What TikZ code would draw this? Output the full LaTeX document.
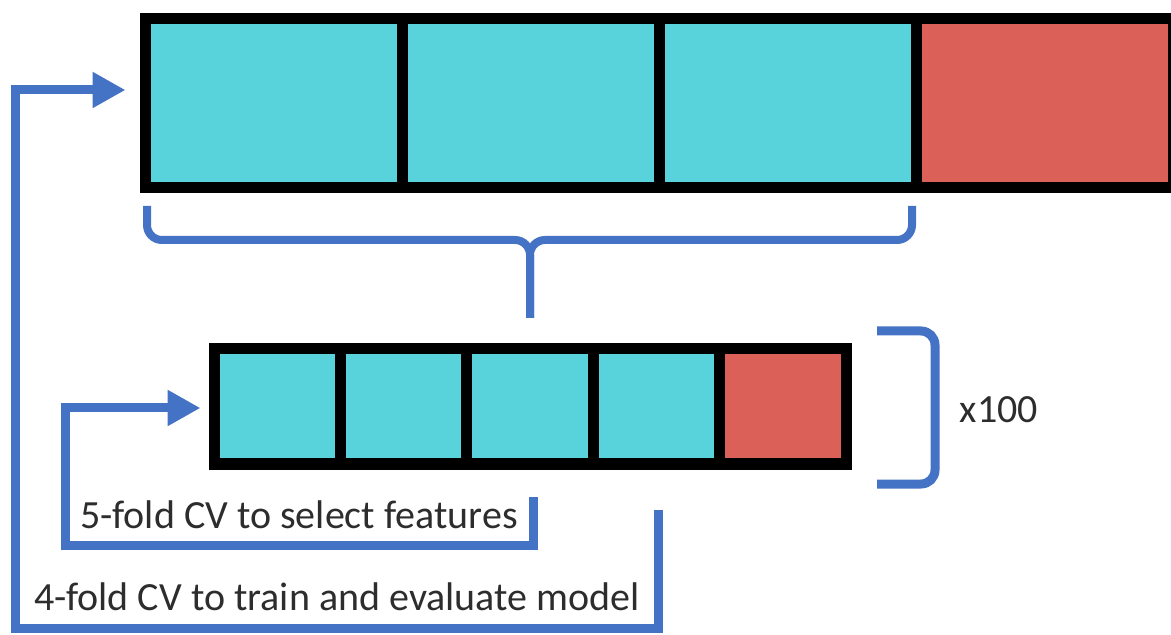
\documentclass[tikz,border=0pt]{standalone}
\usepackage{fontspec}
\setmainfont{Carlito}
\usetikzlibrary{arrows.meta}
\definecolor{foldcyan}{RGB}{88,211,219}
\definecolor{foldred}{RGB}{218,96,88}
\definecolor{cvblue}{RGB}{68,114,196}
\definecolor{labelgray}{RGB}{45,45,45}

\begin{document}
\begin{tikzpicture}[
  x=0.5pt, y=-0.5pt,
  bigcell/.style = {rectangle, draw=black, line width=5.5pt, inner sep=0pt,
                    minimum width=128.5pt, minimum height=84.5pt, fill=foldcyan},
  smallcell/.style = {bigcell, minimum width=63.2pt, minimum height=57.5pt},
  testcell/.style = {fill=foldred},
  blueline/.style = {draw=cvblue, line width=4.5pt},
  brace/.style = {blueline, line width=4pt, rounded corners=7.5pt},
  cvarr/.style = {blueline, -{Triangle[length=16.5pt, width=17pt]}},
  lbl/.style = {font=\fontsize{20}{22}\selectfont, text=labelgray, inner sep=0pt}
]
  \useasboundingbox (0,0) rectangle (1171,635);

  % outer split: 3 train folds + 1 test fold
  \foreach \i in {1,2,3}
    \node[bigcell] (t\i) at ({145+257*(\i-0.5)},103) {};
  \node[bigcell, testcell] (t4) at ({145+257*3.5},103) {};

  % inner split: 4 train folds + 1 test fold
  \foreach \i in {1,...,4}
    \node[smallcell] (s\i) at ({214+126.4*(\i-0.5)},406.5) {};
  \node[smallcell, testcell] (s5) at ({214+126.4*4.5},406.5) {};

  % brace under the train folds
  \draw[brace] (147,206) -- (147,240) -- (530,240) -- (530,318);
  \draw[brace] (912,206) -- (912,240) -- (530,240) -- (530,318);

  % repeat bracket
  \draw[blueline, rounded corners=7pt] (877,331) -- (935,331) -- (935,484) -- (877,484);
  \node[lbl] (rep) at (999,410) {x100};

  % labels
  \node[lbl] (inner) at (299,515) {5-fold CV to select features};
  \node[lbl] (outer) at (337,597) {4-fold CV to train and evaluate model};

  % loops back to the splits
  \coordinate (innerend) at (533,497);
  \coordinate (outerend) at (658,510);
  \draw[cvarr, shorten >=4pt] (innerend) -- (533,545) -- (65,545) -- (65,408) -- (s1.west |- 0,408);
  \draw[cvarr, shorten >=7pt] (outerend) -- (658,628) -- (15,628) -- (15,90) -- (t1.west |- 0,90);
\end{tikzpicture}
\end{document}
